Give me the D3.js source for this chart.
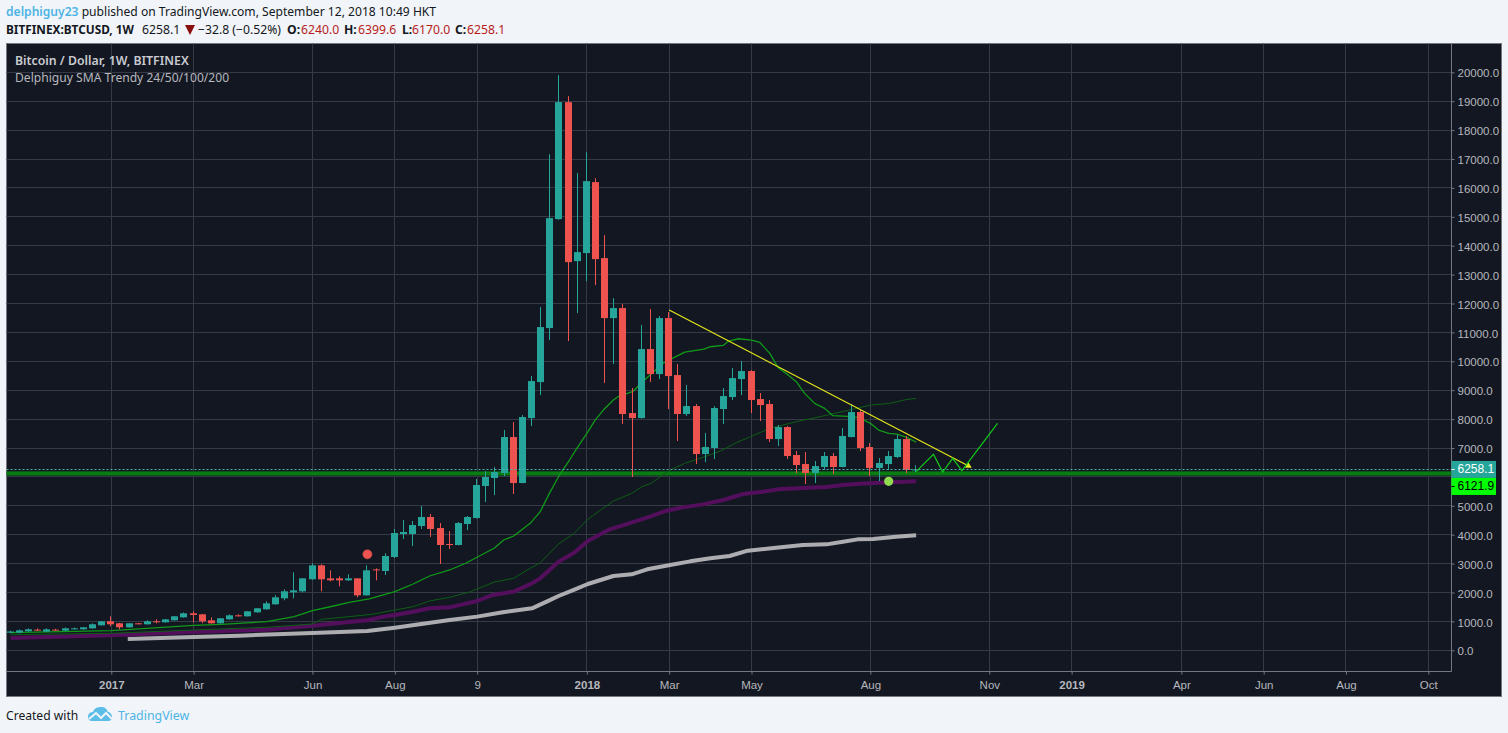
<!DOCTYPE html>
<html>
<head>
<meta charset="utf-8">
<title>BITFINEX:BTCUSD, 1W</title>
<script src="https://cdn.jsdelivr.net/npm/d3@7"></script>
<style>
    html, body { margin: 0; padding: 0; background: #f1f4f8; overflow: hidden; }
    svg { display: block; }
    text { font-family: "Noto Sans", sans-serif; }
    .tick text { font-family: "Liberation Sans", Arial, sans-serif; font-size: 11.5px; fill: #b6b8bd; }
    .domain { display: none; }
</style>
</head>
<body>
<div id="chart"></div>
<script>

// weekly candles, week 0 is the first week of 2017
var firstWeek = -11;
var candleOpen = [610,610,657,715,645,715,680,726,726,760,865,1003,934,795,934,900,1003,968,1038,1141,1280,1245,1038,934,1072,1210,1176,1314,1418,1591,1799,2006,2041,2456,2940,2490,2490,2421,2490,1902,2800,2744,3228,4024,4024,4300,4612,4231,3678,3643,4370,4577,5684,5961,6134,7379,5788,8036,9282,11150,14920,18967,13467,13744,16200,13571,11495,11841,8209,8036,10423,9558,11495,9524,8175,8451,6791,7000,8348,8763,9385,9662,8694,8521,7310,7725,6757,6445,6134,6342,6722,6342,7379,8244,7033,6307,6445,6688,7310,6240];
var candleHigh = [680,720,760,755,760,745,790,790,795,930,1010,1176,950,940,945,1040,1072,1080,1190,1310,1349,1260,1141,1115,1245,1245,1355,1460,1695,1905,2110,2698,2500,3010,2975,2767,2560,2630,2500,2940,2836,3355,4197,4508,4474,4992,4716,4404,4128,4439,4647,5926,6203,6341,7621,7898,8140,9489,11876,17168,19900,19175,16511,17237,16338,14366,12187,11980,9074,11253,11807,11565,11703,9904,9178,8521,7518,8451,9074,9766,10008,9697,8901,8659,7794,7760,6895,6860,6549,6860,6826,7690,8521,8313,7172,6653,6895,7448,7414,6399.6];
var candleLow = [590,590,640,670,630,680,670,715,715,750,860,830,726,780,900,890,934,960,1030,1130,968,935,920,925,1060,1170,1170,1300,1410,1580,1730,1799,2006,2440,2040,2387,2213,2400,1833,1895,2421,2606,3190,3851,3609,4197,3920,2986,3505,3630,4162,4560,5131,5373,6030,5407,5780,7760,8832,10734,14900,10700,11668,12775,12637,9247,9904,7829,5996,8020,9282,9385,8348,7241,8106,6445,6514,6618,7829,8659,8832,8210,7933,7206,7068,6618,6134,5754,5788,6238,6099,6330,7370,6895,6030,5857,6238,6653,6134,6170];
var candleClose = [650,690,726,680,726,680,760,760,795,900,1003,900,795,934,911,1003,980,1072,1176,1280,1222,1003,934,1107,1210,1176,1349,1453,1626,1833,2041,2075,2490,2940,2456,2421,2421,2490,1902,2767,2767,3263,4058,4093,4335,4612,4197,3643,3643,4404,4612,5719,5996,6169,7379,5788,8071,9316,11184,14954,18967,13432,13778,16234,13536,11495,11841,8175,8036,10423,9558,11495,9489,8175,8451,6791,7033,8382,8797,9420,9662,8659,8486,7310,7725,6722,6411,6134,6376,6722,6342,7414,8244,6999,6307,6480,6722,7310,6238,6258.1];

// moving averages, read every few weeks
var sma24Weeks = [-11,0,9,12,17,20,22,24.3,26,28.2,31,33,34.8,37,38.8,41.9,42.9,44,45.8,46.9,47.9,49,50.1,50.9,52,52.9,53.8,54.9,55.4,57,58.3,60.3,61.4,62.7,64.8,65.5,66.9,67.5,68.6,70,70.9,72,72.9,74,74.9,75.8,76.9,78,78.9,80.5,81.8,83,83.9,85,85.9,87,88];
var sma24Values = [611,680,865,900,990,1165,1370,1533,1660,1776,2029,2294,2571,2779,3021,3540,3816,3955,4393,4796,5430,6065,6584,6987,7506,7967,8313,8659,8774,8947,9351,9927,10112,10319,10423,10504,10550,10700,10780,10734,10654,10273,9789,9524,9293,8890,8544,8371,8117,8094,8048,7852,7621,7506,7483,7367,7200];
var sma50Weeks = [-11,0,9,17,22,23,26,28.5,31,33,34.8,37,39.2,41.9,44,45.8,46.9,48.9,50.6,52.1,53.5,54.9,56.9,58,59,61.1,62.7,64.9,66.6,68.4,69.9,72,74.9,77.5,80.7,83,85.1,87,88];
var sma50Values = [542,588,703,796,911,1072,1165,1245,1395,1510,1706,1833,2018,2364,2490,2836,3032,3678,4047,4531,4854,5165,5431,5661,5777,6238,6468,6699,6895,7195,7391,7679,7910,8083,8313,8486,8544,8682,8717];
var sma100Weeks = [-11,0,9,17,22,26,28,29.8,31,33,34.8,37,40,41.7,44,46,46.9,48.9,50.6,52.1,54.5,56.6,58.9,60.7,62.5,64.7,66.9,69.1,71.2,72.9,75.6,78.2,80,81.8,84,88];
var sma100Values = [427,519,634,715,853,980,1038,1165,1222,1337,1453,1487,1706,1914,2029,2318,2490,3067,3378,3782,4185,4393,4624,4831,4946,5050,5200,5407,5488,5569,5615,5650,5719,5765,5800,5846];
var sma200Weeks = [1.8,9,14,18,22,28,31,37,40,42.8,46,47.6,48.9,50.7,52.1,54.9,56.9,58.6,61.1,63.3,65.5,67.6,69.6,72.7,75.6,78.2,80,81.6,83.3,85.8,88];
var sma200Values = [392,461,507,553,600,669,784,1050,1165,1314,1453,1683,1879,2110,2294,2571,2629,2802,2952,3078,3182,3263,3447,3551,3643,3666,3759,3839,3851,3932,3978];

// drawings on top of the chart
var trendWeeks = [61, 94];
var trendValues = [11775, 6332];
var projectionWeeks = [88, 89.9, 90.9, 92, 93, 96.9];
var projectionValues = [6180, 6780, 6169, 6641, 6215, 7852];
var supportLevel = 6121.9;
var lastPrice = 6258.1;
var redDot = { week: 28, value: 3322 };
var greenDot = { week: 85, value: 5846 };

// axis labels, 6000 has a grid line but its label sits under the price tags
var gridPrices = d3.range(0, 20001, 1000);
var priceTicks = gridPrices.filter(function(d) { return d !== 6000; });
var timeWeeks = [0, 9, 22, 31, 40, 52, 61, 70, 83, 96, 105, 117, 126, 135, 144];
var timeLabels = ["2017", "Mar", "Jun", "Aug", "9", "2018", "Mar", "May", "Aug", "Nov", "2019", "Apr", "Jun", "Aug", "Oct"];

var width = 1508, height = 733;
var frame = { left: 6.5, right: 1501.5, top: 43.5, bottom: 696.5 };
var plot = { right: 1451.5, bottom: 671.5 };

var svg = d3.select("#chart").append("svg")
    .attr("width", width)
    .attr("height", height);

var x = d3.scaleLinear().domain([0, 144]).range([111.3, 1428.3]);
var y = d3.scaleLinear().domain([0, 20000]).range([650.3, 72.3]);

svg.append("clipPath").attr("id", "plotClip").append("rect")
    .attr("x", frame.left)
    .attr("y", frame.top)
    .attr("width", plot.right - frame.left)
    .attr("height", plot.bottom - frame.top);

// Dark chart area
svg.append("rect")
    .attr("x", frame.left)
    .attr("y", frame.top)
    .attr("width", frame.right - frame.left)
    .attr("height", frame.bottom - frame.top)
    .attr("fill", "#131722")
    .attr("stroke", "#75787f");

// Grid
var snap = function(v) { return Math.floor(v) + 0.5; };

svg.append("g").selectAll("line").data(gridPrices).enter().append("line")
    .attr("x1", frame.left)
    .attr("x2", plot.right)
    .attr("y1", function(d) { return snap(y(d)); })
    .attr("y2", function(d) { return snap(y(d)); })
    .attr("stroke", "#363a47");

svg.append("g").selectAll("line").data(timeWeeks).enter().append("line")
    .attr("x1", function(d) { return snap(x(d)); })
    .attr("x2", function(d) { return snap(x(d)); })
    .attr("y1", frame.top)
    .attr("y2", plot.bottom)
    .attr("stroke", "#363a47");

// Axes
var yAxis = d3.axisRight(y).tickValues(priceTicks).tickSize(3).tickPadding(3)
    .tickFormat(function(d) { return d3.format(".1f")(d); });
var xAxis = d3.axisBottom(x).tickValues(timeWeeks).tickSize(3).tickPadding(6)
    .tickFormat(function(d, i) { return timeLabels[i]; });

var yAxisGroup = svg.append("g")
    .attr("transform", "translate(" + plot.right + ",0)")
    .call(yAxis);
yAxisGroup.selectAll("text").attr("transform", "translate(0,1)");

var xAxisGroup = svg.append("g")
    .attr("transform", "translate(0," + plot.bottom + ")")
    .call(xAxis);
xAxisGroup.selectAll("text")
    .attr("font-weight", function(d, i) { return /^\d{4}$/.test(timeLabels[i]) ? "bold" : "normal"; });
svg.selectAll(".tick line").attr("stroke", "#75787f");

svg.append("line")
    .attr("x1", plot.right).attr("x2", plot.right)
    .attr("y1", frame.top).attr("y2", plot.bottom)
    .attr("stroke", "#75787f");
svg.append("line")
    .attr("x1", frame.left).attr("x2", plot.right)
    .attr("y1", plot.bottom).attr("y2", plot.bottom)
    .attr("stroke", "#75787f");

var chart = svg.append("g").attr("clip-path", "url(#plotClip)");

// Support band
var supportY = y(supportLevel);
chart.append("line")
    .attr("x1", frame.left).attr("x2", plot.right)
    .attr("y1", supportY).attr("y2", supportY)
    .attr("stroke", "#0b4d1a").attr("stroke-width", 5);
chart.append("line")
    .attr("x1", frame.left).attr("x2", plot.right)
    .attr("y1", supportY).attr("y2", supportY)
    .attr("stroke", "#0a7d12").attr("stroke-width", 3.4);

// Moving averages
var maLine = d3.line()
    .x(function(d) { return x(d.week); })
    .y(function(d) { return y(d.value); });

var drawMa = function(weeks, values, color, thickness) {
    var points = weeks.map(function(w, i) { return { week: w, value: values[i] }; });
    chart.append("path")
        .attr("d", maLine(points))
        .attr("fill", "none")
        .attr("stroke", color)
        .attr("stroke-width", thickness)
        .attr("stroke-linejoin", "round");
};

drawMa(sma200Weeks, sma200Values, "#adadb1", 4);
drawMa(sma100Weeks, sma100Values, "#530f5c", 4);
drawMa(sma50Weeks, sma50Values, "#0d5e14", 1);
drawMa(sma24Weeks, sma24Values, "#0f9a18", 1.3);

// Candles
var candles = candleOpen.map(function(o, i) {
    return { week: firstWeek + i, open: o, high: candleHigh[i], low: candleLow[i], close: candleClose[i] };
});
var candleColor = function(d) { return d.close >= d.open ? "#26a69a" : "#ef5350"; };

var candleGroups = chart.selectAll(".candle").data(candles).enter().append("g")
    .attr("class", "candle");

candleGroups.append("rect")
    .attr("x", function(d) { return Math.round(x(d.week)) - 1; })
    .attr("width", 1)
    .attr("y", function(d) { return y(d.high); })
    .attr("height", function(d) { return y(d.low) - y(d.high); })
    .attr("fill", candleColor);

candleGroups.append("rect")
    .attr("x", function(d) { return Math.round(x(d.week)) - 4; })
    .attr("width", 7)
    .attr("y", function(d) { return y(Math.max(d.open, d.close)); })
    .attr("height", function(d) { return Math.max(1, Math.abs(y(d.open) - y(d.close))); })
    .attr("fill", candleColor);

// Last price line
chart.append("line")
    .attr("x1", frame.left).attr("x2", plot.right)
    .attr("y1", snap(y(lastPrice))).attr("y2", snap(y(lastPrice)))
    .attr("stroke", "#4fb3aa")
    .attr("stroke-dasharray", "2,2");

// Trend line with small arrow head
var lineOf = d3.line()
    .x(function(d) { return x(d[0]); })
    .y(function(d) { return y(d[1]); });

chart.append("path")
    .attr("d", lineOf(d3.zip(trendWeeks, trendValues)))
    .attr("fill", "none")
    .attr("stroke", "#e6e61a")
    .attr("stroke-width", 1.2);

var tipX = x(trendWeeks[1]), tipY = y(trendValues[1]);
chart.append("path")
    .attr("d", d3.line()([[tipX + 0.5, tipY + 0.5], [tipX - 6, tipY + 0.5], [tipX - 2.5, tipY - 5]]) + "Z")
    .attr("fill", "#e6e61a");

chart.append("path")
    .attr("d", lineOf(d3.zip(projectionWeeks, projectionValues)))
    .attr("fill", "none")
    .attr("stroke", "#12c41a")
    .attr("stroke-width", 1.2);

// Marker dots
chart.append("circle")
    .attr("cx", x(redDot.week)).attr("cy", y(redDot.value)).attr("r", 4.6)
    .attr("fill", "#ef5350").attr("stroke", "#c2484a").attr("stroke-opacity", 0.5);
chart.append("circle")
    .attr("cx", x(greenDot.week)).attr("cy", y(greenDot.value)).attr("r", 4.6)
    .attr("fill", "#8fdc4e");

// Price labels on the scale
var labels = svg.append("g");

labels.append("rect")
    .attr("x", plot.right).attr("y", y(lastPrice) - 8.5)
    .attr("width", 44.5).attr("height", 17)
    .attr("fill", "#26a69a");
labels.append("line")
    .attr("x1", plot.right).attr("x2", plot.right + 3)
    .attr("y1", y(lastPrice)).attr("y2", y(lastPrice))
    .attr("stroke", "#ffffff");
labels.append("text")
    .attr("x", plot.right + 6).attr("y", y(lastPrice) + 4)
    .attr("font-size", 12)
    .style("font-family", "Liberation Sans, Arial, sans-serif")
    .attr("fill", "#ffffff")
    .text(d3.format(".1f")(lastPrice));

labels.append("rect")
    .attr("x", plot.right).attr("y", y(lastPrice) + 8.5)
    .attr("width", 44.5).attr("height", 17)
    .attr("fill", "#00ff00");
labels.append("line")
    .attr("x1", plot.right).attr("x2", plot.right + 3)
    .attr("y1", y(lastPrice) + 17).attr("y2", y(lastPrice) + 17)
    .attr("stroke", "#000000");
labels.append("text")
    .attr("x", plot.right + 6).attr("y", y(lastPrice) + 21)
    .attr("font-size", 12)
    .style("font-family", "Liberation Sans, Arial, sans-serif")
    .attr("fill", "#000000")
    .text(d3.format(".1f")(supportLevel));

// Chart titles
svg.append("text")
    .attr("x", 15).attr("y", 65)
    .attr("font-size", 12.3).attr("font-weight", 600)
    .attr("fill", "#c9cbd0")
    .text("Bitcoin / Dollar, 1W, BITFINEX");
svg.append("text")
    .attr("x", 15).attr("y", 82)
    .attr("font-size", 12.1)
    .attr("fill", "#b6b8bd")
    .text("Delphiguy SMA Trendy 24/50/100/200");

// Page header
var head1 = svg.append("text").attr("x", 6).attr("y", 16).attr("font-size", 12.1).attr("fill", "#131722");
head1.append("tspan").attr("fill", "#4db5e5").attr("font-weight", 600).text("delphiguy23");
head1.append("tspan").text(" published on TradingView.com, September 12, 2018 10:49 HKT");

var head2 = svg.append("g").attr("font-size", 12.2).attr("fill", "#131722");
head2.append("text").attr("x", 6).attr("y", 34).attr("font-weight", 700).attr("font-size", 11.8)
    .text("BITFINEX:BTCUSD, 1W");
head2.append("text").attr("x", 142).attr("y", 34).text("6258.1");
head2.append("text").attr("x", 198).attr("y", 34).text("\u221232.8 (\u22120.52%)");

svg.append("path")
    .attr("d", d3.line()([[185, 25], [195, 25], [190, 35]]) + "Z")
    .attr("fill", "#8a0f0f");

var ohlcNames = ["O:", "H:", "L:", "C:"];
var ohlcValues = ["6240.0", "6399.6", "6170.0", "6258.1"];
var ohlcNameX = [287, 344, 402, 455];
var ohlcValueX = [301, 358, 412, 467];
ohlcNames.forEach(function(name, i) {
    head2.append("text").attr("x", ohlcNameX[i]).attr("y", 34).attr("font-weight", 700).text(name);
    head2.append("text").attr("x", ohlcValueX[i]).attr("y", 34).attr("fill", "#b71c1c").text(ohlcValues[i]);
});

// Footer
svg.append("text")
    .attr("x", 6).attr("y", 720)
    .attr("font-size", 12.1)
    .attr("fill", "#131722")
    .text("Created with");

var logo = svg.append("g").attr("transform", "translate(88,707)");
logo.append("path")
    .attr("d", "M0,10 C0,6 3,5 5,5 C6,1 10,0 13,0 C17,0 19,2 20,5 C22,5 24,7 24,10 C24,12 23,14 20,14 L4,14 C1,14 0,12 0,10 Z")
    .attr("fill", "#5cbde8");
logo.append("path")
    .attr("d", "M1,12 L8,6 L13,11 L18,6 L24,12")
    .attr("fill", "none")
    .attr("stroke", "#f1f4f8")
    .attr("stroke-width", 2);

svg.append("text")
    .attr("x", 118).attr("y", 720)
    .attr("font-size", 12.4)
    .attr("fill", "#4db5e5")
    .text("TradingView");

</script>
</body>
</html>
